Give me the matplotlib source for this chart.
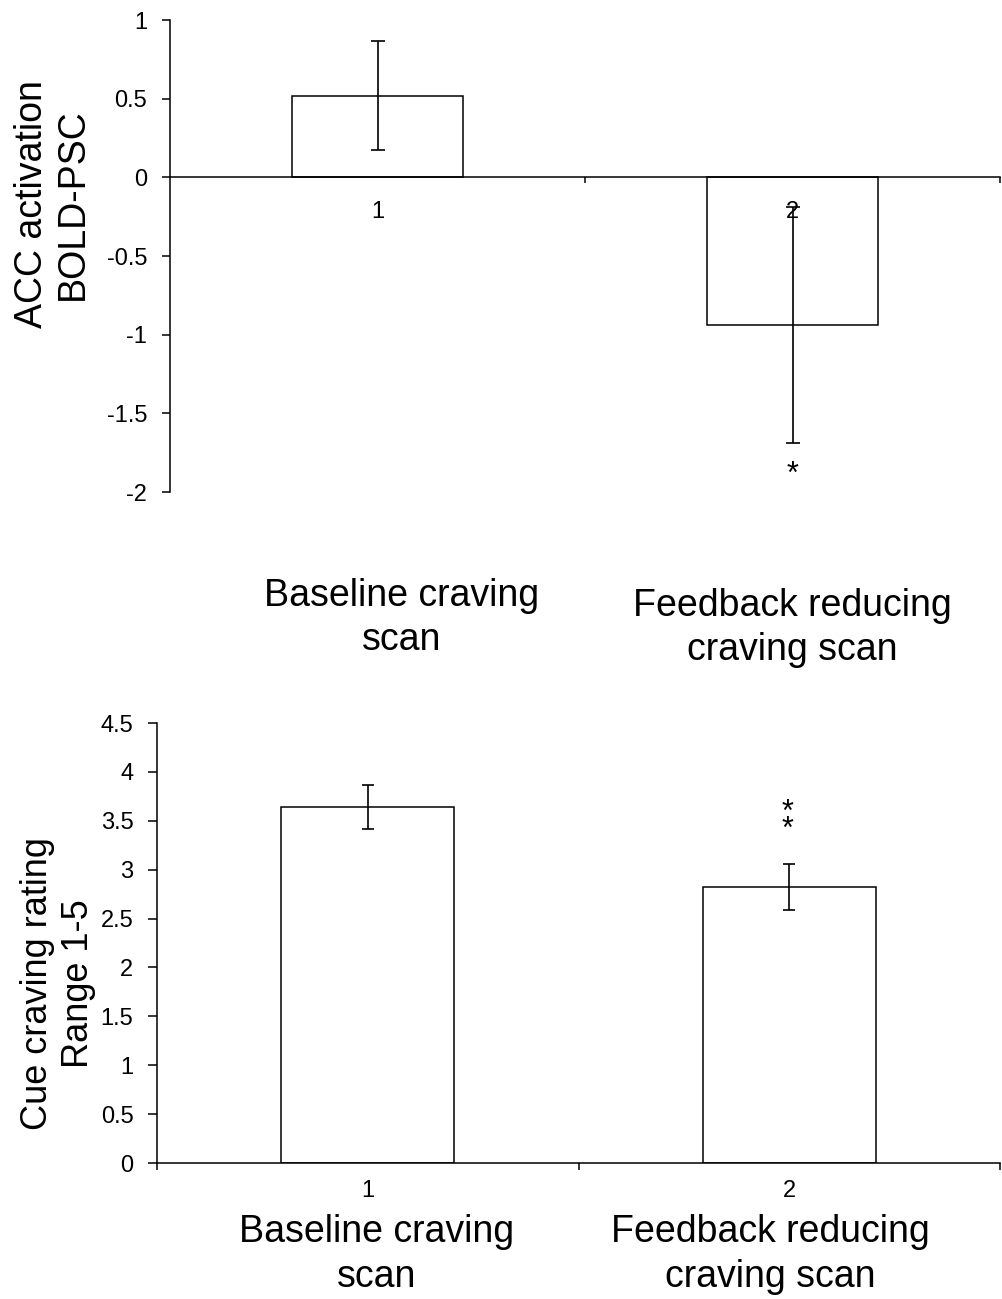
import matplotlib
matplotlib.use("Agg")
import matplotlib.pyplot as plt
import numpy as np

# ---- data ----
categories = ["1", "2"]
group_labels_top = ["Baseline craving\nscan", "Feedback reducing\ncraving scan"]
group_labels_bottom = ["Baseline craving\nscan", "Feedback reducing\ncraving scan"]

acc_values = [0.52, -0.94]
acc_errors = [0.345, 0.75]
acc_yticks = [1, 0.5, 0, -0.5, -1, -1.5, -2]

craving_values = [3.64, 2.82]
craving_errors = [0.225, 0.235]
craving_yticks = [0, 0.5, 1, 1.5, 2, 2.5, 3, 3.5, 4, 4.5]

plt.rcParams['font.family'] = ['Liberation Sans', 'DejaVu Sans']

fig = plt.figure(figsize=(10.02, 12.99), dpi=100)

def fmt(v):
    return "%g" % v

x = np.arange(1, len(categories) + 1)
TICK_FS = 17
GROUP_FS = 27

# ---- top chart ----
ax1 = fig.add_axes([170/1002, 1-492/1299, (1000-170)/1002, (492-20)/1299])
ax1.bar(x, acc_values, width=0.41, color='white', edgecolor='black', linewidth=1.1, zorder=2)
ax1.errorbar(x, acc_values, yerr=acc_errors, fmt='none', ecolor='black',
             elinewidth=1.2, capsize=4.7, capthick=1.2, zorder=3)
ax1.set_axisbelow(False)
ax1.set_xlim(0.5, 2.5)
ax1.set_ylim(-2, 1)
ax1.set_yticks(acc_yticks)
ax1.set_yticklabels([fmt(v) for v in acc_yticks])
ax1.spines['top'].set_visible(False)
ax1.spines['right'].set_visible(False)
ax1.spines['bottom'].set_position(('data', 0))
for s in ['left', 'bottom']:
    ax1.spines[s].set_linewidth(1.1)
ax1.set_xticks([1.5, 2.5])
ax1.set_xticklabels([])
ax1.set_xticks(x, minor=True)
ax1.set_xticklabels(categories, minor=True)
ax1.tick_params(axis='x', which='major', direction='out', length=4, width=1.1)
ax1.tick_params(axis='x', which='minor', length=0, pad=17, labelsize=TICK_FS)
ax1.tick_params(axis='y', direction='out', length=6, width=1.1, labelsize=TICK_FS, pad=10.5)
ax1.set_ylabel("ACC activation\nBOLD-PSC", fontsize=27, linespacing=1.2)
ax1.yaxis.set_label_coords(-0.095, 0.61)
ax1.text(2, -1.89, "*", ha='center', va='center', fontsize=22)
ax1.text(1.057, -2.80, group_labels_top[0], ha='center', va='center', fontsize=GROUP_FS,
         linespacing=1.3)
ax1.text(2.0, -2.864, group_labels_top[1], ha='center', va='center', fontsize=GROUP_FS,
         linespacing=1.3)

# ---- bottom chart ----
ax2 = fig.add_axes([157/1002, 1-1163/1299, (1000-157)/1002, (1163-723)/1299])
ax2.bar(x, craving_values, width=0.41, color='white', edgecolor='black', linewidth=1.1, zorder=2)
ax2.errorbar(x, craving_values, yerr=craving_errors, fmt='none', ecolor='black',
             elinewidth=1.2, capsize=4.5, capthick=1.2, zorder=3)
ax2.set_xlim(0.5, 2.5)
ax2.set_ylim(0, 4.5)
ax2.set_yticks(craving_yticks)
ax2.set_yticklabels([fmt(v) for v in craving_yticks])
ax2.spines['top'].set_visible(False)
ax2.spines['right'].set_visible(False)
for s in ['left', 'bottom']:
    ax2.spines[s].set_linewidth(1.1)
ax2.set_xticks([0.5, 1.5, 2.5])
ax2.set_xticklabels([])
ax2.set_xticks(x, minor=True)
ax2.set_xticklabels(categories, minor=True)
ax2.tick_params(axis='x', which='major', direction='out', length=5, width=1.1)
ax2.tick_params(axis='x', which='minor', length=0, pad=12, labelsize=TICK_FS)
ax2.tick_params(axis='y', direction='out', length=6.5, width=1.1, labelsize=TICK_FS, pad=10.5)
ax2.set_ylabel("Cue craving rating\nRange 1-5", fontsize=26, linespacing=1.2)
ax2.yaxis.set_label_coords(-0.0725, 0.407)
ax2.text(1.995, 3.495, "*\n*", ha='center', va='center', fontsize=22, linespacing=0.42)
ax2.text(1.02, -0.936, group_labels_bottom[0], ha='center', va='center', fontsize=GROUP_FS,
         linespacing=1.3)
ax2.text(1.955, -0.936, group_labels_bottom[1], ha='center', va='center', fontsize=GROUP_FS,
         linespacing=1.3)

fig.savefig("out.png", dpi=100)
